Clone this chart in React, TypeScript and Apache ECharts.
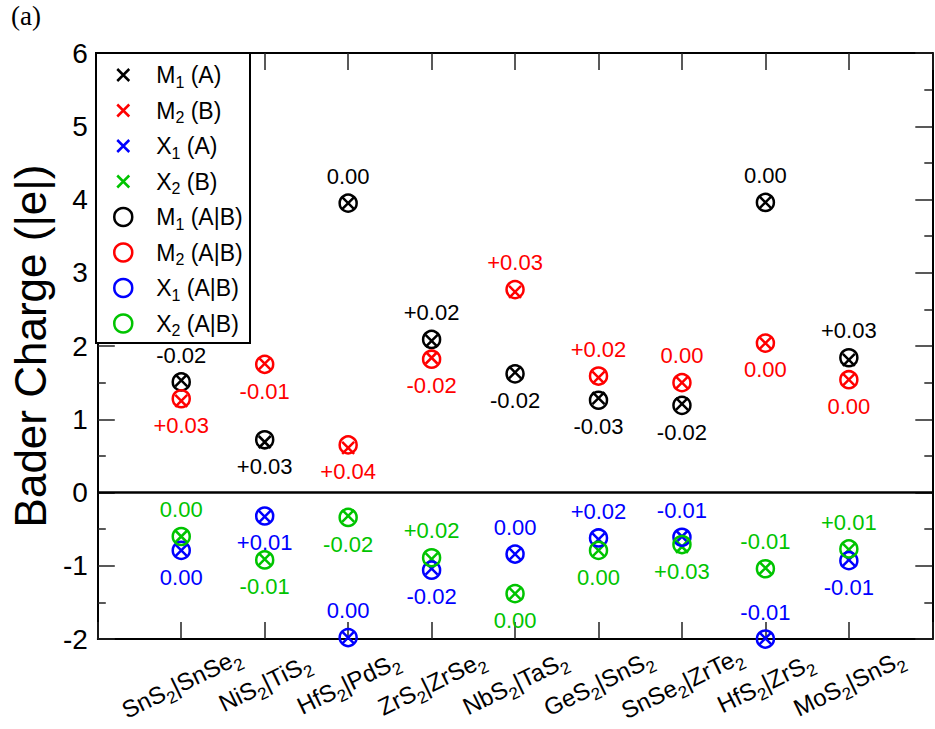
import { useEffect, useRef } from 'react';
import * as echarts from 'echarts';

// Heterostructures, written as A|B
const categories = [
  'SnS2|SnSe2',
  'NiS2|TiS2',
  'HfS2|PdS2',
  'ZrS2|ZrSe2',
  'NbS2|TaS2',
  'GeS2|SnS2',
  'SnSe2|ZrTe2',
  'HfS2|ZrS2',
  'MoS2|SnS2',
];

// Bader charge (|e|) of each atom in the isolated monolayer (A or B)
const m1Isolated = [1.53, 0.69, 3.95, 2.07, 1.64, 1.29, 1.21, 3.96, 1.81];
const m2Isolated = [1.25, 1.76, 0.61, 1.84, 2.74, 1.57, 1.5, 2.04, 1.54];
const x1Isolated = [-0.79, -0.33, -1.98, -1.04, -0.84, -0.64, -0.6, -1.99, -0.92];
const x2Isolated = [-0.6, -0.91, -0.32, -0.91, -1.38, -0.79, -0.74, -1.03, -0.78];

// Change of the charge once the A|B stack is formed
const m1Shift = [-0.02, 0.03, 0.0, 0.02, -0.02, -0.03, -0.02, 0.0, 0.03];
const m2Shift = [0.03, -0.01, 0.04, -0.02, 0.03, 0.02, 0.0, 0.0, 0.0];
const x1Shift = [0.0, 0.01, 0.0, -0.02, 0.0, 0.02, -0.01, -0.01, -0.01];
const x2Shift = [0.0, -0.01, -0.02, 0.02, 0.0, 0.0, 0.03, -0.01, 0.01];

const FONT = '"Liberation Sans", Arial, Helvetica, sans-serif';
const CROSS = 'path://M0,0L12,12M12,0L0,12M-3,-3M15,15';
const CLEAR = 'rgba(0,0,0,0)';

// Per species: colour, layer tag and which side of the marker the shift label sits on
const species = [
  { atom: 'M1', layer: 'A', color: '#000000', iso: m1Isolated, shift: m1Shift,
    above: [true, false, true, true, false, false, false, true, true] },
  { atom: 'M2', layer: 'B', color: '#ff0000', iso: m2Isolated, shift: m2Shift,
    above: [false, false, false, false, true, true, true, false, false] },
  { atom: 'X1', layer: 'A', color: '#0000ff', iso: x1Isolated, shift: x1Shift,
    above: [false, false, true, false, true, true, true, true, false] },
  { atom: 'X2', layer: 'B', color: '#00c400', iso: x2Isolated, shift: x2Shift,
    above: [true, false, false, true, false, false, false, true, true] },
];

const signed = (d: number) => {
  const r = Math.round(d * 100) / 100;
  if (r === 0) return '0.00';
  return (r > 0 ? '+' : '') + r.toFixed(2);
};

const subscript = (s: string) => s.replace(/(\d)/g, '{s|$1}');

function buildOption() {
  const markerStyle = (color: string) => ({
    color: CLEAR,
    borderColor: color,
    borderWidth: 2.5,
    opacity: 1,
  });

  const crossSeries = species.map((sp, si) => ({
    name: `${sp.atom} (${sp.layer})`,
    type: 'scatter',
    symbol: CROSS,
    symbolSize: 18,
    clip: false,
    z: 3,
    emphasis: { disabled: true },
    itemStyle: markerStyle(sp.color),
    data: sp.iso.map((v, i) => [i + 1, v]),
    ...(si === 0
      ? {
          markLine: {
            silent: true,
            symbol: 'none',
            label: { show: false },
            lineStyle: { color: '#000', width: 2.5, type: 'solid', opacity: 1 },
            data: [{ yAxis: 0 }],
          },
        }
      : {}),
  }));

  const circleSeries = species.map((sp) => ({
    name: `${sp.atom} (A|B)`,
    type: 'scatter',
    symbol: 'circle',
    symbolSize: 17,
    clip: false,
    z: 4,
    emphasis: { disabled: true },
    itemStyle: markerStyle(sp.color),
    label: {
      show: true,
      color: sp.color,
      fontFamily: FONT,
      fontSize: 22,
      distance: 6,
      formatter: (p: any) => signed(sp.shift[p.dataIndex]),
    },
    data: sp.iso.map((v, i) => ({
      value: [i + 1, Math.round((v + sp.shift[i]) * 1000) / 1000],
      label: { position: sp.above[i] ? 'top' : 'bottom' },
    })),
  }));

  const legendData = [
    ...species.map((sp) => ({
      name: `${sp.atom} (${sp.layer})`,
      icon: CROSS,
      itemStyle: markerStyle(sp.color),
    })),
    ...species.map((sp) => ({
      name: `${sp.atom} (A|B)`,
      icon: 'circle',
      itemStyle: markerStyle(sp.color),
    })),
  ];

  const axisLine = { lineStyle: { color: '#000', width: 2 } };
  const tick = { inside: true, length: 17, lineStyle: { color: '#222', width: 1.5 } };
  const minorTick = { show: true, splitNumber: 2, length: 8, lineStyle: { color: '#222', width: 1.5 } };

  return {
    animation: false,
    textStyle: { fontFamily: FONT },
    grid: { left: 96, top: 53, right: -8.5, bottom: 82, containLabel: false },
    xAxis: [
      {
        type: 'value',
        position: 'bottom',
        min: 0,
        max: 10,
        interval: 1,
        axisLine: { ...axisLine, onZero: false },
        axisTick: tick,
        splitLine: { show: false },
        axisLabel: {
          show: true,
          rotate: 26,
          align: 'center',
          verticalAlign: 'middle',
          margin: 44,
          hideOverlap: false,
          color: '#000',
          fontFamily: FONT,
          fontSize: 24,
          lineHeight: 35,
          formatter: (v: number) => {
            const n = categories[Math.round(v) - 1];
            return n ? subscript(n) : '';
          },
          rich: { s: { fontSize: 17, lineHeight: 17, verticalAlign: 'bottom', fontFamily: FONT, color: '#000' } },
        },
      },
      {
        type: 'value',
        position: 'top',
        min: 0,
        max: 10,
        interval: 1,
        axisLine: { ...axisLine, onZero: false },
        axisTick: tick,
        axisLabel: { show: false },
        splitLine: { show: false },
      },
    ],
    yAxis: [
      {
        type: 'value',
        position: 'left',
        min: -2,
        max: 6,
        interval: 1,
        axisLine: { ...axisLine, onZero: false },
        axisTick: tick,
        minorTick,
        splitLine: { show: false },
        axisLabel: { color: '#000', fontFamily: FONT, fontSize: 28, margin: 10 },
        name: 'Bader Charge (|e|)',
        nameLocation: 'middle',
        nameRotate: 90,
        nameGap: 42,
        nameTextStyle: { color: '#000', fontFamily: FONT, fontSize: 44 },
      },
      {
        type: 'value',
        position: 'right',
        min: -2,
        max: 6,
        interval: 1,
        axisLine: { ...axisLine, onZero: false },
        axisTick: tick,
        minorTick,
        splitLine: { show: false },
        axisLabel: { show: false },
      },
    ],
    legend: {
      orient: 'vertical',
      left: 96,
      top: 53,
      padding: [7, 0, 0, 17],
      itemGap: 5.5,
      itemWidth: 18,
      itemHeight: 18,
      selectedMode: false,
      z: 10,
      data: legendData,
      formatter: (name: string) => name.replace(/^([MX])(\d)/, '$1{s|$2}'),
      textStyle: {
        color: '#000',
        fontFamily: FONT,
        fontSize: 23,
        lineHeight: 30,
        padding: [0, 0, 0, 19],
        rich: { s: { fontSize: 16, lineHeight: 14, verticalAlign: 'bottom', fontFamily: FONT, color: '#000' } },
      },
    },
    graphic: [
      {
        type: 'rect',
        z: 5,
        shape: { x: 96, y: 53, width: 154, height: 290 },
        style: { fill: '#fff', stroke: '#000', lineWidth: 2 },
      },
      {
        type: 'text',
        left: 11,
        top: 2,
        style: { text: '(a)', font: '27px "Liberation Serif", "DejaVu Serif", serif', fill: '#000' },
      },
    ],
    series: [...crossSeries, ...circleSeries],
  };
}

export default function App() {
  const ref = useRef<HTMLDivElement>(null);
  useEffect(() => {
    if (!ref.current) return;
    const chart = echarts.init(ref.current, undefined, { renderer: 'svg' });
    chart.setOption(buildOption() as any);
    return () => chart.dispose();
  }, []);
  return (
    <div
      ref={ref}
      style={{ position: 'fixed', left: 0, top: 0, width: 935, height: 729, background: '#fff' }}
    />
  );
}
